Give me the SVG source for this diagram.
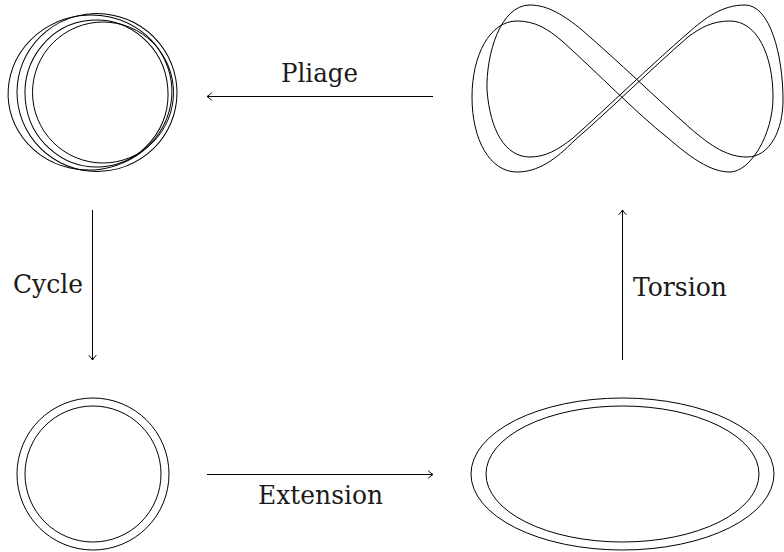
<svg xmlns="http://www.w3.org/2000/svg" width="784" height="552" viewBox="0 0 784 552">
<style>
.s{fill:none;stroke:#000;stroke-width:1;stroke-linejoin:round}
.c{fill:none;stroke:#000;stroke-width:1}
.t{font-family:"DejaVu Serif",serif;font-size:26px;fill:#1a1a1a}
</style>
<defs>
<marker id="to" viewBox="-6 -5 8 10" markerWidth="8" markerHeight="10" refX="0" refY="0" orient="auto" markerUnits="userSpaceOnUse">
<path d="M -4.5 -3.5 Q -1.5 -0.8 0 0 Q -1.5 0.8 -4.5 3.5" fill="none" stroke="#000" stroke-width="1" stroke-linecap="round"/>
</marker>
</defs>
<rect width="784" height="552" fill="#fff"/>
<g id="node-tangle">
<ellipse class="s" cx="90" cy="92.5" rx="82" ry="77.5" transform="rotate(-8 90 92.5)"/>
<ellipse class="s" cx="97" cy="92.5" rx="80" ry="79" transform="rotate(6 97 92.5)"/>
<ellipse class="s" cx="96.5" cy="93.5" rx="71.5" ry="73.5" transform="rotate(-5 96.5 93.5)"/>
<ellipse class="s" cx="103" cy="92.5" rx="70.5" ry="70.5"/>
</g>
<g id="node-eight">
<path class="s" d="M 530 5 C 548 5, 565 16, 582 30 C 620 63, 655 97, 690 128 C 712 147, 728 157, 747 157 C 770 157, 783 130, 783 100 C 783 55, 770 5, 745 5 C 722 5, 705 18, 688 33 C 650 66, 610 105, 573 138 C 558 150, 545 157, 530 157 C 505 157, 490 130, 487 90 C 486 55, 500 5, 530 5 Z"/>
<path class="s" d="M 517 21 C 535 21, 548 29, 562 41 C 600 75, 635 112, 668 138 C 690 157, 710 172, 730 172 C 750 172, 773 135, 773 97 C 773 55, 757 21, 730 21 C 712 21, 700 28, 688 37 C 650 70, 612 108, 575 140 C 555 160, 538 172, 517 172 C 490 172, 472 140, 472 97 C 472 55, 490 21, 517 21 Z"/>
</g>
<g id="node-ring">
<circle class="s" cx="93" cy="474" r="76"/>
<circle class="s" cx="93" cy="474" r="68"/>
</g>
<g id="node-ellipse">
<ellipse class="s" cx="622.5" cy="474" rx="151.5" ry="76"/>
<ellipse class="s" cx="622.5" cy="474" rx="136.5" ry="68"/>
</g>
<g id="connectors">
<line class="c" x1="433" y1="96.5" x2="207" y2="96.5" marker-end="url(#to)"/>
<line class="c" x1="92.5" y1="210" x2="92.5" y2="360" marker-end="url(#to)"/>
<line class="c" x1="207" y1="474.5" x2="433" y2="474.5" marker-end="url(#to)"/>
<line class="c" x1="622.5" y1="360" x2="622.5" y2="210" marker-end="url(#to)"/>
</g>
<g id="labels">
<text class="t" x="281" y="82" textLength="77" lengthAdjust="spacingAndGlyphs">Pliage</text>
<text class="t" x="13" y="293" textLength="70" lengthAdjust="spacingAndGlyphs">Cycle</text>
<text class="t" x="258" y="504" textLength="125" lengthAdjust="spacingAndGlyphs">Extension</text>
<text class="t" x="633" y="296" textLength="94" lengthAdjust="spacingAndGlyphs">Torsion</text>
</g>
</svg>
